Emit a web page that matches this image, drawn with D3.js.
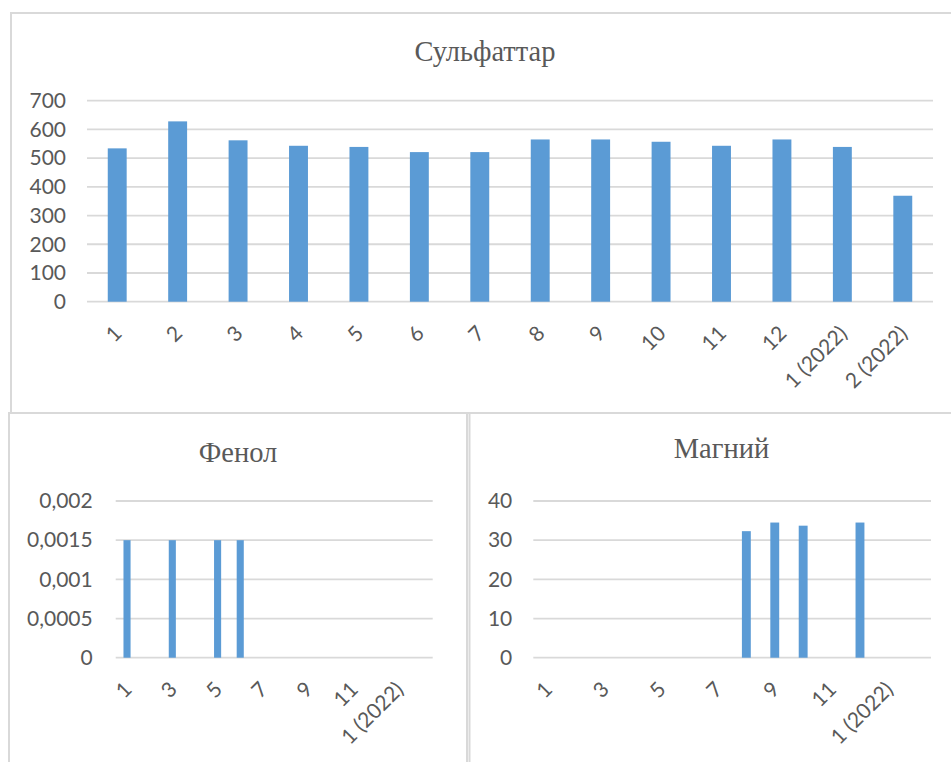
<!DOCTYPE html>
<html>
<head>
<meta charset="utf-8">
<script src="https://cdn.jsdelivr.net/npm/d3@7"></script>
<style>
  html, body { margin: 0; padding: 0; background: #fff; }
  svg { display: block; }
</style>
</head>
<body>
<script>
// Monthly categories shared by all three panels
const categories = ["1", "2", "3", "4", "5", "6", "7", "8", "9", "10", "11", "12", "1 (2022)", "2 (2022)"];

// Сульфаттар
const sulfateValues = [534, 628, 562, 543, 539, 521, 521, 565, 565, 557, 543, 565, 539, 369];
const sulfateTicks = [0, 100, 200, 300, 400, 500, 600, 700];
const sulfateTickLabels = ["0", "100", "200", "300", "400", "500", "600", "700"];

// Фенол (null = no measurement)
const phenolValues = [0.0015, null, 0.0015, null, 0.0015, 0.0015, null, null, null, null, null, null, null, null];
const phenolTicks = [0, 0.0005, 0.001, 0.0015, 0.002];
const phenolTickLabels = ["0", "0,0005", "0,001", "0,0015", "0,002"];

// Магний (null = no measurement)
const magnesiumValues = [null, null, null, null, null, null, null, 32.3, 34.5, 33.7, null, 34.5, null, null];
const magnesiumTicks = [0, 10, 20, 30, 40];
const magnesiumTickLabels = ["0", "10", "20", "30", "40"];

const W = 951, H = 762;
const BORDER = "#d9d9d9";
const TEXT = "#595959";
const BAR = "#5b9bd5";
const GRID = "#d9d9d9";
const labelFont = "Lato, 'Open Sans', sans-serif";
const titleFont = "'Liberation Serif', 'Times New Roman', serif";

const svg = d3.select("body").append("svg")
  .attr("width", W).attr("height", H)
  .attr("viewBox", `0 0 ${W} ${H}`);

svg.append("rect").attr("width", W).attr("height", H).attr("fill", "#fff");

// Chart frames
const frames = [
  { x: 11, y: 13, w: 960, h: 400 },
  { x: 9, y: 413, w: 458, h: 380 },
  { x: 469.5, y: 413, w: 520, h: 380 }
];
svg.selectAll("rect.frame").data(frames).join("rect")
  .attr("class", "frame")
  .attr("x", d => d.x).attr("y", d => d.y)
  .attr("width", d => d.w).attr("height", d => d.h)
  .attr("fill", "none").attr("stroke", BORDER).attr("stroke-width", 2);

function drawChart(cfg) {
  const g = svg.append("g");
  const x = d3.scaleBand()
    .domain(categories)
    .range([cfg.left, cfg.right])
    .paddingInner(0.687)
    .paddingOuter(0.687 / 2);
  const y = d3.scaleLinear()
    .domain([0, d3.max(cfg.ticks)])
    .range([cfg.bottom, cfg.top]);

  // gridlines
  g.append("g").selectAll("line").data(cfg.ticks).join("line")
    .attr("x1", cfg.left).attr("x2", cfg.right)
    .attr("y1", d => y(d)).attr("y2", d => y(d))
    .attr("stroke", GRID).attr("stroke-width", 1.8);

  // bars
  const pts = categories.map((c, i) => ({ c, v: cfg.values[i] })).filter(d => d.v != null);
  g.append("g").selectAll("rect").data(pts).join("rect")
    .attr("x", d => x(d.c))
    .attr("width", x.bandwidth())
    .attr("y", d => y(d.v))
    .attr("height", d => y(0) - y(d.v))
    .attr("fill", BAR);

  // value axis
  const yAxis = d3.axisLeft(y)
    .tickValues(cfg.ticks)
    .tickFormat((d, i) => cfg.tickLabels[i])
    .tickSize(0)
    .tickPadding(cfg.yPad);
  const ya = g.append("g").attr("transform", `translate(${cfg.left},0)`).call(yAxis);
  ya.select(".domain").remove();
  ya.selectAll("text")
    .attr("fill", TEXT)
    .style("font-family", labelFont)
    .style("font-size", "21px");

  // category axis
  const shown = categories.filter((c, i) => i % cfg.every === 0);
  const xa = g.append("g").attr("transform", `translate(0,${cfg.bottom})`)
    .call(d3.axisBottom(x).tickValues(shown).tickSize(0));
  xa.select(".domain").remove();
  xa.selectAll("text")
    .attr("fill", TEXT)
    .style("font-family", labelFont)
    .style("font-size", "21px")
    .attr("text-anchor", "end")
    .attr("dy", null)
    .attr("y", null)
    .attr("transform", "translate(6,33) rotate(-45)");

  // title
  g.append("text")
    .attr("x", cfg.titleX).attr("y", cfg.titleY)
    .attr("text-anchor", "middle")
    .attr("fill", TEXT)
    .style("font-family", titleFont)
    .style("font-size", "28.5px")
    .text(cfg.title);
}

drawChart({
  title: "Сульфаттар", values: sulfateValues, ticks: sulfateTicks, tickLabels: sulfateTickLabels,
  left: 87, right: 933, top: 100.7, bottom: 301.7, yPad: 21, every: 1,
  titleX: 485, titleY: 61
});
drawChart({
  title: "Фенол", values: phenolValues, ticks: phenolTicks, tickLabels: phenolTickLabels,
  left: 115.7, right: 432.7, top: 501, bottom: 657.7, yPad: 23, every: 2,
  titleX: 238, titleY: 462
});
drawChart({
  title: "Магний", values: magnesiumValues, ticks: magnesiumTicks, tickLabels: magnesiumTickLabels,
  left: 533.3, right: 931, top: 501, bottom: 657.7, yPad: 21, every: 2,
  titleX: 721.5, titleY: 458
});
</script>
</body>
</html>
